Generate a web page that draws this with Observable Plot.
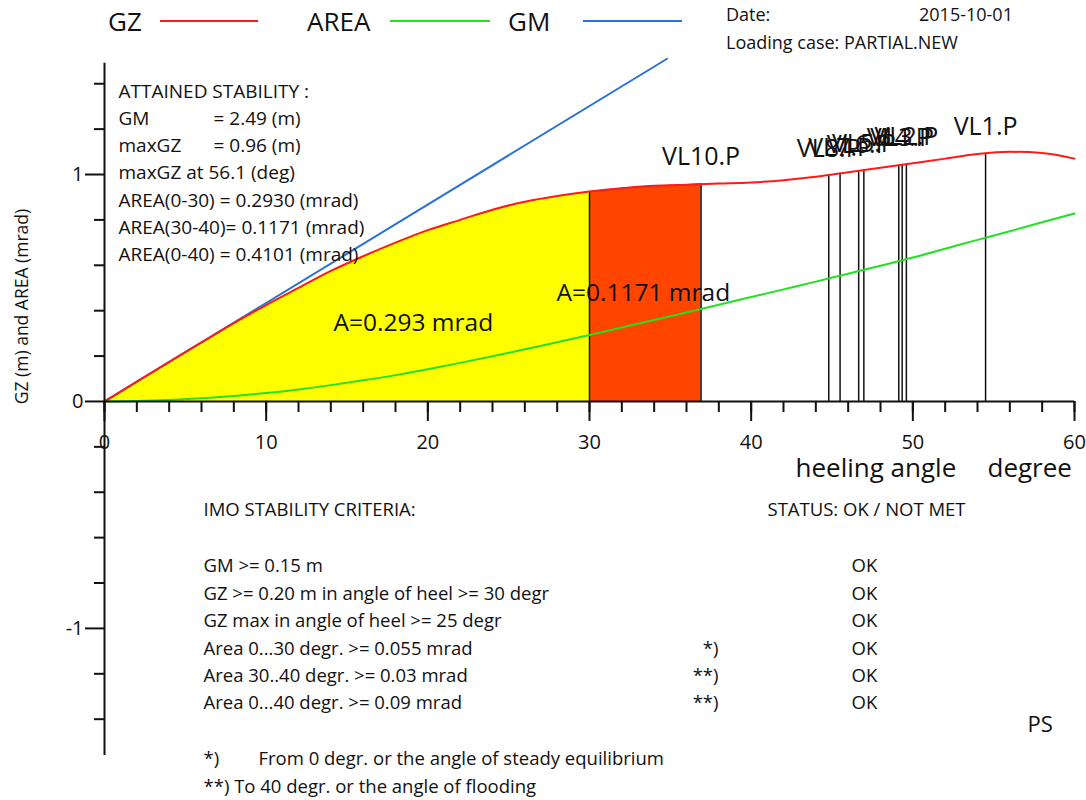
<!DOCTYPE html>
<html>
<head>
<meta charset="utf-8">
<script src="https://cdn.jsdelivr.net/npm/d3@7"></script>
<script src="https://cdn.jsdelivr.net/npm/@observablehq/plot@0.6"></script>
<style>
  body { margin: 0; background: #fff; font-family: "Open Sans", sans-serif; color: #111; }
  #wrap { position: relative; width: 1086px; height: 800px; overflow: hidden; background: #fff; }
  #header { position: relative; height: 50px; }
  .t { position: absolute; white-space: pre; line-height: 1; }
  .ln { position: absolute; height: 2px; }
  #chart svg { display: block; }
</style>
</head>
<body>
<div id="wrap">
  <div id="header"></div>
  <div id="chart"></div>
</div>
<script>
// ---------- data ----------
const angles = [0,2,4,6,8,10,12,14,16,18,20,22,24,26,28,30,32,34,36,38,40,42,44,46,48,50,52,54,56,58,60];
const gzValues = [0,0.087,0.174,0.26,0.345,0.425,0.50,0.575,0.64,0.70,0.755,0.80,0.845,0.88,0.905,0.925,0.94,0.95,0.955,0.96,0.965,0.975,0.99,1.01,1.03,1.05,1.07,1.09,1.10,1.095,1.07];
const areaValues = [0,0.0015,0.006,0.014,0.024,0.037,0.053,0.072,0.093,0.116,0.142,0.17,0.199,0.23,0.261,0.293,0.326,0.359,0.392,0.426,0.46,0.494,0.528,0.563,0.598,0.634,0.673,0.712,0.75,0.79,0.828];
const gmAngles = [0, 34.8];
const gmValues = [0, 1.51];
const floodAngle = 36.9;
const floodGz = 0.96;
const criterionAngle = 30;
const criterionGz = 0.925;
const vlAngles = [36.9, 44.8, 45.5, 46.65, 46.97, 49.13, 49.34, 49.6, 54.5];
const vlNames = ["VL10.P","VL8.P","VL7.P","VL6.P","VL5.P","VL4.P","VL3.P","VL2.P","VL1.P"];
const vlGz = [0.96, 0.995, 1.0, 1.012, 1.016, 1.04, 1.042, 1.045, 1.09];
const xMinorTicks = d3.range(0, 61, 2);
const xMajorTicks = [0,10,20,30,40,50,60];
const yMinorTicks = [-1.4,-1.2,-0.8,-0.6,-0.4,-0.2,0.2,0.4,0.6,0.8,1.2,1.4];
const yMajorTicks = [-1,0,1];
const attainedLabels = ["ATTAINED STABILITY :","GM","maxGZ","maxGZ at 56.1 (deg)","AREA(0-30) = 0.2930 (mrad)","AREA(30-40)= 0.1171 (mrad)","AREA(0-40) = 0.4101 (mrad)"];
const attainedValues = ["","= 2.49 (m)","= 0.96 (m)","","","",""];
const criteria = ["GM >= 0.15 m","GZ >= 0.20 m in angle of heel >= 30 degr","GZ max in angle of heel >= 25 degr","Area 0...30 degr. >= 0.055 mrad","Area 30..40 degr. >= 0.03 mrad","Area 0...40 degr. >= 0.09 mrad"];
const criteriaNotes = ["","","","*)","**)","**)"];
const criteriaStatus = ["OK","OK","OK","OK","OK","OK"];
const legendNames = ["GZ","AREA","GM"];
const legendColors = ["#ff1a1a","#22e022","#2a72d6"];

// ---------- tables ----------
const table = angles.map((a, i) => ({a, gz: gzValues[i], area: areaValues[i]}));
const yellow = table.filter(d => d.a <= criterionAngle);
const orange = table.filter(d => d.a >= criterionAngle && d.a < floodAngle).concat([{a: floodAngle, gz: floodGz}]);
const gm = gmAngles.map((a, i) => ({a, v: gmValues[i]}));
const vl = vlAngles.map((a, i) => ({a, gz: vlGz[i], name: vlNames[i]}));
const verticals = [{a: criterionAngle, gz: criterionGz}].concat(vl);

// ---------- header (legend, date) ----------
const header = document.getElementById("header");
function hText(txt, left, cy, fs) {
  const d = document.createElement("div");
  d.className = "t"; d.textContent = txt;
  d.style.left = left + "px"; d.style.top = (cy - fs * 0.53) + "px"; d.style.fontSize = fs + "px";
  header.appendChild(d);
}
function hLine(color, left, w, top) {
  const d = document.createElement("div");
  d.className = "ln"; d.style.background = color;
  d.style.left = left + "px"; d.style.width = w + "px"; d.style.top = top + "px";
  header.appendChild(d);
}
const legLeft = [108, 307, 508], lineLeft = [160, 390, 583], lineW = [98, 100, 99];
legendNames.forEach((n, i) => { hText(n, legLeft[i], 22, 26); hLine(legendColors[i], lineLeft[i], lineW[i], 20); });
hText("Date:", 726, 15, 18);
hText("2015-10-01", 919, 15, 18);
hText("Loading case: PARTIAL.NEW", 726, 43, 18);

// ---------- chart ----------
const FL = 104, FT = 56; // frame origin on the page
function ann(data, px, py, opts = {}) {
  return Plot.text(data, Object.assign({frameAnchor: "top-left", dx: px - FL, dy: py - FT, textAnchor: "start", lineAnchor: "middle", fill: "#111"}, opts));
}
const xTickUnit = 1 / 226.9;    // one pixel in y units
const yTickUnit = 1 / 16.167;   // one pixel in x units

const chart = Plot.plot({
  width: 1086, height: 750,
  marginTop: 6, marginBottom: 45, marginLeft: 104, marginRight: 12,
  x: {domain: [0, 60], axis: null},
  y: {domain: [-1.56, 1.52], axis: null},
  style: {fontFamily: "Open Sans", background: "white", color: "#111", overflow: "visible"},
  marks: [
    Plot.areaY(yellow, {x: "a", y: "gz", fill: "#ffff00", curve: "monotone-x"}),
    Plot.areaY(orange, {x: "a", y: "gz", fill: "#ff4500", curve: "monotone-x"}),
    Plot.ruleX(verticals, {x: "a", y1: 0, y2: "gz", stroke: "#111", strokeWidth: 1.5}),
    Plot.line(table, {x: "a", y: "area", stroke: legendColors[1], strokeWidth: 2, curve: "monotone-x"}),
    Plot.line(gm, {x: "a", y: "v", stroke: legendColors[2], strokeWidth: 2}),
    Plot.line(table, {x: "a", y: "gz", stroke: legendColors[0], strokeWidth: 2, curve: "monotone-x"}),
    // axes
    Plot.ruleY([0], {x1: 0, x2: 60, stroke: "#111", strokeWidth: 2}),
    Plot.ruleX([0], {y1: -1.56, y2: 1.49, stroke: "#111", strokeWidth: 2}),
    Plot.ruleX(xMinorTicks, {x: d => d, y1: 0, y2: -11 * xTickUnit, stroke: "#111", strokeWidth: 2}),
    Plot.ruleX(xMajorTicks, {x: d => d, y1: 0, y2: -20 * xTickUnit, stroke: "#111", strokeWidth: 2}),
    Plot.text(xMajorTicks, {x: d => d, y: 0, dy: 41, text: d => String(d), fontSize: 20, fill: "#111"}),
    Plot.ruleY(yMinorTicks, {y: d => d, x1: 0, x2: -10 * yTickUnit, stroke: "#111", strokeWidth: 2}),
    Plot.ruleY(yMajorTicks, {y: d => d, x1: 0, x2: -19 * yTickUnit, stroke: "#111", strokeWidth: 2}),
    Plot.text(yMajorTicks, {x: 0, y: d => d, dx: -21, text: d => String(d), textAnchor: "end", fontSize: 20, fill: "#111"}),
    // vertical flooding-line labels
    Plot.text(vl, {x: "a", y: "gz", dy: -27, text: "name", fontSize: 25, fill: "#111"}),
    // axis titles
    ann(["GZ (m) and AREA (mrad)"], 22, 306, {rotate: -90, textAnchor: "middle", fontSize: 17.5}),
    ann(["heeling angle"], 795, 468, {fontSize: 26}),
    ann(["degree"], 987, 468, {fontSize: 26}),
    // attained stability block
    ...attainedLabels.map((t, i) => ann([t], 118, 91 + 27.3 * i, {fontSize: 19})),
    ...attainedValues.map((t, i) => ann([t], 213, 91 + 27.3 * i, {fontSize: 19})),
    // area labels
    ann(["A=0.293 mrad"], 333, 323, {fontSize: 24.5}),
    ann(["A=0.1171 mrad"], 556, 293, {fontSize: 24.5}),
    // criteria block
    ann(["IMO STABILITY CRITERIA:"], 203, 510, {fontSize: 18.5}),
    ann(["STATUS: OK / NOT MET"], 767, 510, {fontSize: 18.5}),
    ...criteria.map((t, i) => ann([t], 203, 566 + 27.4 * i, {fontSize: 18.5})),
    ...criteriaNotes.map((t, i) => ann([t], 718, 566 + 27.4 * i, {fontSize: 18.5, textAnchor: "end"})),
    ...criteriaStatus.map((t, i) => ann([t], 851, 566 + 27.4 * i, {fontSize: 18.5})),
    ann(["PS"], 1027, 724, {fontSize: 22}),
    ann(["*)"], 203, 759, {fontSize: 18.5}),
    ann(["From 0 degr. or the angle of steady equilibrium"], 258, 759, {fontSize: 18.5}),
    ann(["**) To 40 degr. or the angle of flooding"], 203, 787, {fontSize: 18.5})
  ]
});
document.getElementById("chart").appendChild(chart);
</script>
</body>
</html>
